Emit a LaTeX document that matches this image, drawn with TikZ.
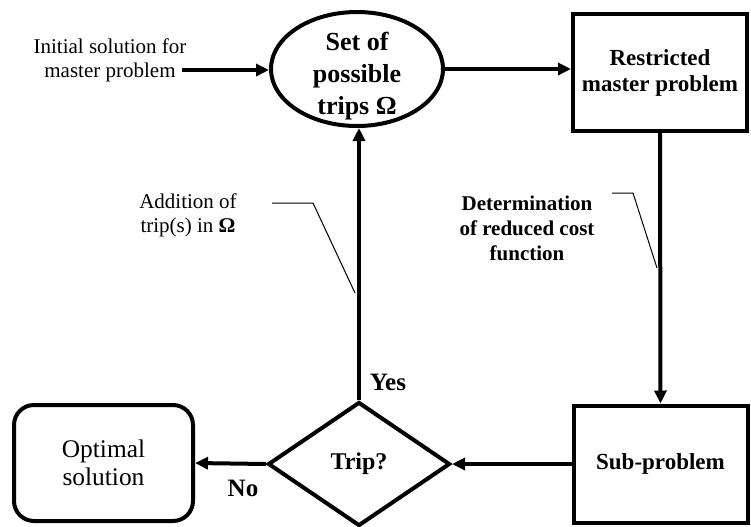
\documentclass[tikz,border=0pt]{standalone}
\usepackage{fontspec}
\setmainfont{Liberation Serif}
\usetikzlibrary{shapes.geometric,arrows.meta}
\begin{document}
\begin{tikzpicture}[x=.5pt,y=-.5pt,
    >={Triangle[length=6.5pt,width=6pt]},
    procbox/.style={draw,line width=2pt,minimum width=87pt,minimum height=58.5pt,
      align=center,font=\fontsize{11.5}{13}\selectfont\bfseries},
    setell/.style={draw,ellipse,line width=2pt,minimum width=86pt,minimum height=57pt,
      inner sep=0pt},
    decbox/.style={draw,diamond,line width=2pt,minimum width=91pt,minimum height=62pt,
      inner sep=0pt,font=\fontsize{12}{14}\selectfont\bfseries},
    termbox/.style={draw,line width=2pt,rounded corners=10pt,minimum width=89.5pt,
      minimum height=58pt,align=center,font=\fontsize{12.7}{14}\selectfont},
    note/.style={align=center,font=\fontsize{10.5}{12}\selectfont},
    flowarrow/.style={line width=2pt,->},
    leaderline/.style={line width=.5pt}]
  \useasboundingbox (0,0) rectangle (751,526);
  \node[setell] (ell) at (357,69) {};
  \node[align=center,font=\fontsize{13}{16}\selectfont\bfseries] (elltxt) at (357,76)
    {Set of\\possible\\trips Ω};
  \node[procbox] (rmp) at (660,72.5) {Restricted\\master problem};
  \node[procbox] (sub) at (660.5,464) {Sub-problem};
  \node[decbox] (dia) at (359,464) {Trip?};
  \node[termbox] (opt) at (103.5,463) {Optimal\\solution};
  \node[note] (init) at (110,60) {Initial solution for\\master problem};
  \coordinate (initend) at (182,70);
  \node[note] (addlbl) at (188,215) {Addition of\\trip(s) in \textbf{Ω}};
  \node[note,font=\fontsize{10.5}{12.5}\selectfont\bfseries] (detlbl) at (527,228)
    {Determination\\of reduced cost\\function};
  \node[font=\fontsize{12.5}{14}\selectfont\bfseries] (yeslbl) at (388,382) {Yes};
  \node[font=\fontsize{12.5}{14}\selectfont\bfseries] (nolbl) at (243,488) {No};
  \draw[flowarrow] (initend) -- (initend -| ell.west);
  \draw[flowarrow] (ell.east) -- (ell.east -| rmp.west);
  \draw[flowarrow] (rmp.south) -- (sub.north);
  \draw[flowarrow] (sub.west) -- (dia.east);
  \draw[flowarrow] (dia.west) -- (opt.east);
  \draw[flowarrow] (dia.north) -- (dia.north |- ell.south);
  \draw[leaderline] (272,203) -- (313,203) -- (355,293);
  \draw[leaderline] (612,193) -- (633,193) -- (657,268);
\end{tikzpicture}
\end{document}
